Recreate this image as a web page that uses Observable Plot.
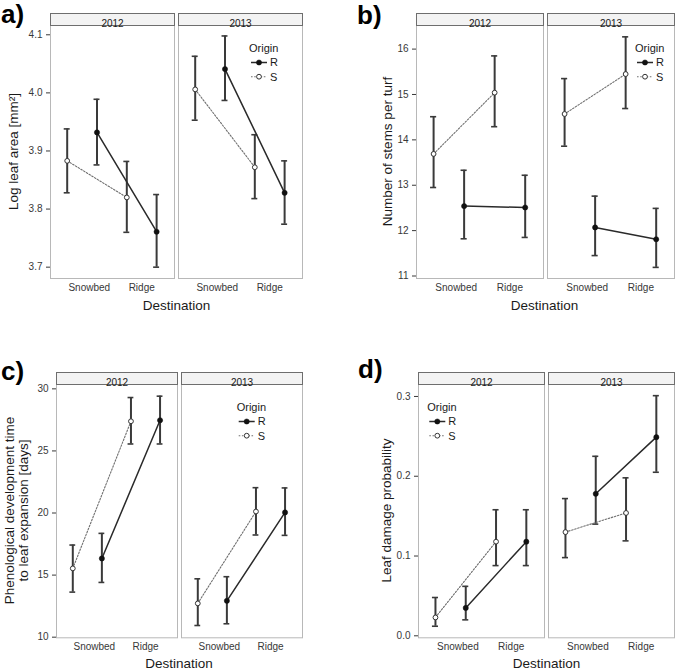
<!DOCTYPE html>
<html>
<head>
<meta charset="utf-8">
<script src="https://cdn.jsdelivr.net/npm/d3@7"></script>
<script src="https://cdn.jsdelivr.net/npm/@observablehq/plot@0.6"></script>
<style>
  html, body { margin: 0; padding: 0; background: #fff; }
  #fig { position: relative; width: 678px; height: 670px; overflow: hidden;
         font-family: "Liberation Sans", Arial, sans-serif; background: #fff; }
  .panel { position: absolute; }
  #overlay { position: absolute; left: 0; top: 0; pointer-events: none; overflow: visible; }
</style>
</head>
<body>
<div id="fig"></div>
<script>
// ---------------- data ----------------
const years = ["2012", "2013"];
const destinations = ["Snowbed", "Ridge"];
const origins = ["R", "S"];
// each entry: [mean, lower, upper]; order: 2012 Snowbed, 2012 Ridge, 2013 Snowbed, 2013 Ridge
const leafAreaR = [[3.932, 3.876, 3.989], [3.761, 3.700, 3.825], [4.041, 3.987, 4.098], [3.828, 3.774, 3.883]];
const leafAreaS = [[3.883, 3.828, 3.938], [3.820, 3.760, 3.882], [4.006, 3.953, 4.063], [3.872, 3.818, 3.928]];
const stemsR = [[12.54, 11.82, 13.33], [12.51, 11.85, 13.22], [12.07, 11.45, 12.76], [11.81, 11.19, 12.49]];
const stemsS = [[13.69, 12.95, 14.51], [15.04, 14.29, 15.85], [14.57, 13.86, 15.35], [15.45, 14.69, 16.27]];
const phenoR = [[16.34, 14.41, 18.36], [27.47, 25.56, 29.41], [12.93, 11.08, 14.87], [20.05, 18.20, 22.02]];
const phenoS = [[15.54, 13.63, 17.42], [27.39, 25.56, 29.30], [12.72, 10.94, 14.70], [20.12, 18.23, 22.04]];
const damageR = [[0.035, 0.020, 0.062], [0.118, 0.088, 0.158], [0.178, 0.140, 0.225], [0.249, 0.205, 0.301]];
const damageS = [[0.023, 0.012, 0.048], [0.118, 0.088, 0.158], [0.130, 0.098, 0.172], [0.154, 0.119, 0.198]];
// tick values
const leafAreaTicks = [3.7, 3.8, 3.9, 4.0, 4.1];
const stemsTicks = [11, 12, 13, 14, 15, 16];
const phenoTicks = [10, 15, 20, 25, 30];
const damageTicks = [0.0, 0.1, 0.2, 0.3];
const titles = {
  a: ["Log leaf area [mm²]"],
  b: ["Number of stems per turf"],
  c: ["Phenological development time", "to leaf expansion [days]"],
  d: ["Leaf damage probability"],
  x: "Destination",
  legend: "Origin"
};

// ---------------- layout constants ----------------
const FONT = '"Liberation Sans", Arial, Helvetica, sans-serif';
const DODGE = 0.25;     // horizontal dodge of the two origins (x units)
const CAP = 0.05;       // half width of error-bar caps (x units)
const LABEL_NUDGE = 0.12; // Snowbed label sits a little right of its category
const STRIP = 12;       // strip height (px)
const INK = "#3a3a3a";

function rows(R, S) {
  const out = [];
  for (const [origin, arr] of [["R", R], ["S", S]]) {
    arr.forEach(([mean, lo, hi], i) => {
      const di = i % 2;
      out.push({
        origin, year: years[Math.floor(i / 2)], dest: destinations[di],
        pos: di + 1 + (origin === "S" ? -DODGE : DODGE), mean, lo, hi
      });
    });
  }
  return out;
}

const fig = document.getElementById("fig");

function panel({data, left, top, width, height, mt, mr, mb, ml, yDomain, yTicks, yFmt}) {
  const frameH = height - mt - mb;
  const R = data.filter(d => d.origin === "R");
  const S = data.filter(d => d.origin === "S");
  const plot = Plot.plot({
    width, height,
    marginTop: mt, marginRight: mr, marginBottom: mb, marginLeft: ml,
    style: {fontFamily: FONT, fontSize: "10px", color: "#383838", background: "transparent", overflow: "visible"},
    fx: {domain: years, paddingInner: 0.031, paddingOuter: 0, axis: null, label: null},
    x: {
      domain: [0.47, 2.55],
      ticks: [1 + LABEL_NUDGE, 2],
      tickFormat: d => destinations[Math.round(d) - 1],
      tickSize: 0, tickPadding: 5, label: null
    },
    y: {domain: yDomain, ticks: yTicks, tickFormat: yFmt, tickSize: 4, tickPadding: 4, label: null},
    marks: [
      Plot.frame({stroke: "#b8b8b8", strokeWidth: 1}),
      Plot.frame({stroke: "#6e6e6e", fill: "#f3f3f3", strokeWidth: 1, insetTop: -STRIP, insetBottom: frameH}),
      Plot.text(years, {fx: d => d, text: d => d, frameAnchor: "top", dy: -STRIP / 2, fill: "#1a1a1a", fontSize: 10}),
      Plot.ruleX(data, {fx: "year", x: "pos", y1: "lo", y2: "hi", stroke: INK, strokeWidth: 2}),
      Plot.ruleY(data, {fx: "year", y: "hi", x1: d => d.pos - CAP, x2: d => d.pos + CAP, stroke: INK, strokeWidth: 1.6}),
      Plot.ruleY(data, {fx: "year", y: "lo", x1: d => d.pos - CAP, x2: d => d.pos + CAP, stroke: INK, strokeWidth: 1.6}),
      Plot.line(S, {fx: "year", x: "pos", y: "mean", stroke: "#707070", strokeWidth: 1.1, strokeDasharray: "1.6,1.6"}),
      Plot.line(R, {fx: "year", x: "pos", y: "mean", stroke: "#2a2a2a", strokeWidth: 1.5}),
      Plot.dot(S, {fx: "year", x: "pos", y: "mean", r: 2.4, fill: "white", stroke: "#333", strokeWidth: 1}),
      Plot.dot(R, {fx: "year", x: "pos", y: "mean", r: 2.6, fill: "#111", stroke: "#111", strokeWidth: 0.5})
    ]
  });
  const wrap = document.createElement("div");
  wrap.className = "panel";
  wrap.style.left = left + "px";
  wrap.style.top = top + "px";
  wrap.appendChild(plot);
  fig.appendChild(wrap);
}

const f1 = d3.format(".1f"), f0 = d3.format("d");

panel({data: rows(leafAreaR, leafAreaS), left: 0, top: 0, width: 339, height: 330,
       mt: 25, mr: 36.3, mb: 52, ml: 50, yDomain: [3.6805, 4.116], yTicks: leafAreaTicks, yFmt: f1});
panel({data: rows(stemsR, stemsS), left: 340, top: 0, width: 338, height: 330,
       mt: 25, mr: 4, mb: 52, ml: 75, yDomain: [10.945, 16.52], yTicks: stemsTicks, yFmt: f0});
panel({data: rows(phenoR, phenoS), left: 0, top: 330, width: 339, height: 340,
       mt: 54, mr: 36.3, mb: 32.7, ml: 55, yDomain: [9.95, 30.35], yTicks: phenoTicks, yFmt: f0});
panel({data: rows(damageR, damageS), left: 340, top: 330, width: 338, height: 340,
       mt: 54, mr: 4, mb: 32.7, ml: 77.3, yDomain: [-0.0025, 0.315], yTicks: damageTicks, yFmt: f1});

// ---------------- overlay: panel letters, axis titles, legends ----------------
const ov = d3.select("#fig").append("svg").attr("id", "overlay")
  .attr("width", 678).attr("height", 670).style("font-family", FONT);

[["a)", 1, 23], ["b)", 357, 24], ["c)", 1, 380], ["d)", 358, 378]].forEach(([t, x, y]) => {
  ov.append("text").attr("x", x).attr("y", y).text(t)
    .attr("fill", "#000").style("font-size", "26px").style("font-weight", "bold");
});

function yTitle(lines, xs, cy) {
  lines.forEach((t, i) => {
    ov.append("text").attr("transform", `translate(${xs[i]},${cy}) rotate(-90)`)
      .attr("text-anchor", "middle").attr("dy", "0.35em").text(t)
      .attr("fill", "#1a1a1a").style("font-size", "13.5px");
  });
}
yTitle(titles.a, [13], 151.5);
yTitle(titles.b, [387], 151.5);
yTitle(titles.c, [9.5, 23], 510.5);
yTitle(titles.d, [386.7], 510.5);

[[176.5, 305], [544.5, 305], [179, 663], [546.5, 663]].forEach(([x, y]) => {
  ov.append("text").attr("x", x).attr("y", y).attr("dy", "0.35em").attr("text-anchor", "middle")
    .text(titles.x).attr("fill", "#1a1a1a").style("font-size", "13.5px");
});

function legend(L, y0) {
  const g = ov.append("g").attr("transform", `translate(${L},${y0})`);
  g.append("text").attr("x", 0).attr("y", 0).attr("dy", "0.35em").text(titles.legend)
    .attr("fill", "#1a1a1a").style("font-size", "11px");
  origins.forEach((o, i) => {
    const yy = 14.2 * (i + 1);
    const isR = o === "R";
    g.append("line").attr("x1", 2).attr("x2", 18).attr("y1", yy).attr("y2", yy)
      .attr("stroke", isR ? "#2a2a2a" : "#707070").attr("stroke-width", isR ? 1.5 : 1.1)
      .attr("stroke-dasharray", isR ? null : "1.6,1.6");
    g.append("circle").attr("cx", 10).attr("cy", yy).attr("r", isR ? 2.6 : 2.4)
      .attr("fill", isR ? "#111" : "white").attr("stroke", isR ? "#111" : "#333").attr("stroke-width", isR ? 0.5 : 1);
    g.append("text").attr("x", 21).attr("y", yy).attr("dy", "0.35em").text(o)
      .attr("fill", "#1a1a1a").style("font-size", "11px");
  });
}
legend(249, 48.3);
legend(635, 48.3);
legend(236.7, 407.3);
legend(427.3, 407.3);
</script>
</body>
</html>
